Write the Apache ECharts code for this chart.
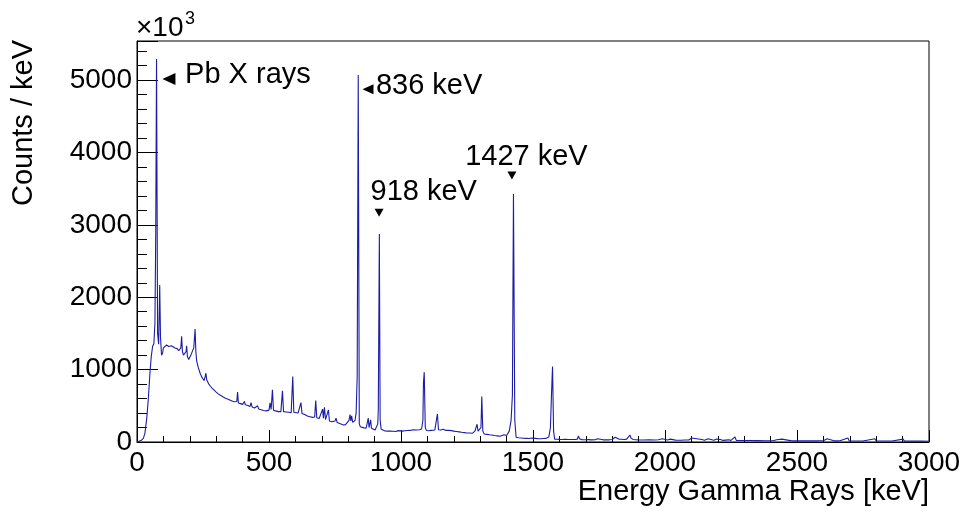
<!DOCTYPE html>
<html>
<head>
<meta charset="utf-8">
<script src="https://cdn.jsdelivr.net/npm/echarts@6/dist/echarts.min.js"></script>
<style>
  html, body { margin: 0; padding: 0; background: #fff; }
  #chart { width: 963px; height: 513px; }
</style>
</head>
<body>
<div id="chart"></div>
<script>
// Gamma-ray spectrum: energy bins [keV] and counts per keV (x10^3)
const energy = [
  0, 5, 15, 24, 30, 37, 43, 49, 54, 59, 64, 68, 71, 74, 78, 82, 86, 89, 93, 97,
  100, 106, 112, 120, 130, 137, 144, 152, 158, 163, 166, 169, 172, 176, 182, 186, 188, 191, 196, 200,
  205, 210, 215, 220, 223, 226, 232, 239, 245, 250, 254, 258, 261, 264, 268, 272, 278, 285, 292, 300,
  308, 316, 325, 335, 345, 352, 360, 368, 374, 378, 381, 384, 392, 400, 404, 407, 410, 420, 428, 432,
  436, 445, 452, 457, 461, 470, 479, 490, 500, 504, 508, 513, 517, 525, 535, 545, 551, 555, 565, 575,
  584, 590, 594, 600, 610, 617, 621, 625, 635, 645, 655, 665, 673, 677, 681, 690, 697, 703, 706, 710,
  714, 720, 725, 729, 738, 745, 750, 754, 758, 768, 775, 782, 790, 797, 803, 807, 810, 813, 817, 822,
  826, 830, 834, 838, 842, 846, 852, 860, 868, 872, 876, 879, 883, 885, 888, 895, 902, 908, 912, 914,
  918, 921, 925, 930, 940, 950, 960, 970, 980, 990, 995, 1005, 1015, 1025, 1035, 1045, 1050, 1060, 1070, 1078,
  1083, 1085, 1088, 1092, 1096, 1105, 1115, 1122, 1128, 1134, 1138, 1142, 1150, 1160, 1170, 1180, 1192, 1200, 1210, 1220,
  1230, 1240, 1248, 1255, 1260, 1270, 1280, 1288, 1292, 1298, 1303, 1306, 1310, 1315, 1325, 1335, 1343, 1355, 1365, 1375,
  1381, 1390, 1400, 1410, 1417, 1422, 1426, 1431, 1436, 1445, 1455, 1463, 1475, 1485, 1495, 1500, 1510, 1520, 1530, 1540,
  1550, 1560, 1566, 1570, 1574, 1578, 1582, 1590, 1600, 1610, 1620, 1625, 1630, 1640, 1650, 1660, 1668, 1672, 1676, 1685,
  1700, 1710, 1720, 1735, 1745, 1750, 1765, 1770, 1775, 1790, 1800, 1811, 1815, 1825, 1835, 1845, 1855, 1862, 1867, 1872,
  1880, 1899, 1920, 1940, 1960, 1975, 1990, 1995, 2010, 2020, 2025, 2040, 2060, 2075, 2082, 2090, 2101, 2106, 2120, 2125,
  2139, 2150, 2163, 2167, 2185, 2196, 2200, 2210, 2220, 2240, 2250, 2265, 2270, 2290, 2320, 2350, 2380, 2410, 2423, 2430,
  2443, 2448, 2480, 2510, 2540, 2570, 2600, 2614, 2620, 2640, 2660, 2693, 2698, 2720, 2750, 2795, 2800, 2830, 2860, 2902,
  2907, 2940, 2970, 3000
];
const counts = [
  0, 5, 20, 50, 120, 330, 600, 950, 1180, 1320, 1360, 1650, 2900, 5290, 1500, 1350, 2170, 1450, 1200, 1230,
  1300, 1320, 1340, 1320, 1330, 1320, 1300, 1290, 1260, 1240, 1300, 1460, 1250, 1200, 1210, 1250, 1330, 1180, 1140, 1160,
  1210, 1230, 1300, 1560, 1250, 1120, 1030, 950, 900, 880, 850, 900, 950, 860, 830, 800, 770, 740, 715, 690,
  665, 645, 625, 605, 590, 580, 565, 555, 545, 560, 690, 540, 530, 520, 520, 560, 515, 505, 490, 545,
  485, 470, 460, 500, 455, 445, 435, 430, 440, 540, 450, 720, 440, 430, 420, 420, 706, 420, 415, 410,
  405, 905, 410, 405, 400, 400, 545, 395, 380, 360, 350, 340, 345, 572, 335, 325, 320, 455, 330, 480,
  310, 300, 443, 290, 280, 280, 290, 330, 270, 255, 245, 235, 240, 250, 300, 380, 290, 360, 270, 270,
  300, 400, 900, 5070, 250, 210, 200, 195, 190, 200, 330, 200, 200, 305, 190, 175, 166, 170, 250, 450,
  2873, 300, 175, 160, 152, 150, 150, 148, 145, 157, 145, 150, 155, 158, 160, 170, 160, 165, 170, 180,
  300, 815, 965, 200, 160, 155, 160, 170, 165, 180, 388, 170, 165, 175, 160, 160, 157, 150, 145, 140,
  134, 130, 125, 140, 125, 120, 150, 245, 150, 140, 200, 628, 150, 110, 105, 100, 97, 90, 85, 80,
  73, 100, 90, 150, 300, 650, 3425, 300, 65, 58, 55, 51, 50, 48, 55, 60, 50, 45, 45, 48,
  50, 70, 200, 650, 1043, 150, 40, 38, 36, 35, 38, 50, 36, 35, 35, 35, 40, 85, 45, 33,
  32, 33, 30, 32, 45, 32, 30, 42, 30, 30, 35, 65, 45, 40, 38, 35, 40, 65, 97, 50,
  35, 30, 28, 30, 28, 32, 45, 30, 28, 40, 27, 26, 25, 27, 42, 28, 55, 28, 45, 26,
  35, 24, 45, 24, 23, 40, 23, 35, 22, 30, 22, 70, 22, 20, 20, 19, 18, 18, 30, 17,
  40, 17, 16, 16, 15, 15, 18, 45, 30, 16, 15, 55, 15, 14, 14, 45, 14, 13, 13, 40,
  12, 12, 12, 11
];

// Peak annotations: marker position, label anchor (data coordinates)
const peakLabels = ['Pb X rays', '836 keV', '918 keV', '1427 keV'];
const markerCoords = [[121, 5014], [875, 4873], [917, 3166], [1420, 3681]];
const markerRotations = [90, 90, 180, 180];
const markerSizes = [[12, 13], [10, 11], [9, 8], [9, 8]];
const labelCoords = [[182, 5073], [905, 4917], [1086, 3457], [1475, 3932]];
const labelAligns = ['left', 'left', 'center', 'center'];

const yTicks = [0, 1000, 2000, 3000, 4000, 5000];

const FONT = '"Liberation Sans", Arial, Helvetica, sans-serif';
const LINE_COLOR = '#1c1ca6';

const seriesData = energy.map((e, i) => [e, counts[i]]);

const markData = [];
peakLabels.forEach((text, i) => {
  markData.push({
    coord: markerCoords[i],
    symbol: 'triangle',
    symbolRotate: markerRotations[i],
    symbolSize: markerSizes[i],
    itemStyle: { color: '#000' },
    label: { show: false }
  });
  markData.push({
    coord: labelCoords[i],
    symbol: 'rect',
    symbolSize: 1,
    itemStyle: { color: 'rgba(0,0,0,0)' },
    label: {
      show: true,
      formatter: text,
      position: 'inside',
      align: labelAligns[i],
      verticalAlign: 'middle',
      color: '#000',
      fontSize: 29,
      fontFamily: FONT
    }
  });
});

const chart = echarts.init(document.getElementById('chart'), null, { renderer: 'canvas' });

const yMax = 5540;

chart.setOption({
  animation: false,
  backgroundColor: '#fff',
  grid: {
    left: 137, right: 34, top: 41, bottom: 71,
    containLabel: false,
    outerBoundsMode: 'none',
    show: true, borderColor: '#000', borderWidth: 1, backgroundColor: 'transparent'
  },
  xAxis: {
    type: 'value', min: 0, max: 3000, interval: 500,
    axisLine: { show: true, lineStyle: { color: '#000', width: 1 } },
    axisTick: { show: true, inside: true, length: 12, lineStyle: { color: '#000' } },
    minorTick: { show: true, splitNumber: 5, length: 6, lineStyle: { color: '#000' } },
    axisLabel: { color: '#000', fontSize: 28, fontFamily: FONT, margin: 7,
                 formatter: v => String(v) },
    splitLine: { show: false }
  },
  yAxis: [
    {
      type: 'value', min: 0, max: yMax, interval: 200, position: 'left',
      axisLine: { show: true, lineStyle: { color: '#000', width: 1 } },
      axisTick: { show: true, inside: true, length: 10, lineStyle: { color: '#000' } },
      axisLabel: {
        color: '#000', fontSize: 28, fontFamily: FONT, margin: 5,
        formatter: v => (yTicks.indexOf(v) >= 0 ? String(v) : '')
      },
      splitLine: { show: false }
    },
    {
      type: 'value', min: 0, max: yMax, interval: 1000, position: 'left',
      axisLine: { show: false },
      axisTick: { show: true, inside: true, length: 21, lineStyle: { color: '#000' } },
      axisLabel: { show: false },
      splitLine: { show: false }
    }
  ],
  graphic: [
    {
      type: 'text', x: 929, y: 492,
      style: { text: 'Energy Gamma Rays [keV]', font: '29px ' + FONT, fill: '#000',
               textAlign: 'right', textVerticalAlign: 'middle' }
    },
    {
      type: 'text', x: 24, y: 40, rotation: Math.PI / 2,
      style: { text: 'Counts / keV', font: '29px ' + FONT, fill: '#000',
               textAlign: 'right', textVerticalAlign: 'middle' }
    },
    {
      type: 'text', x: 136, y: 28,
      style: { text: '\u00d710', font: '28px ' + FONT, fill: '#000',
               textAlign: 'left', textVerticalAlign: 'middle' }
    },
    {
      type: 'text', x: 185, y: 19,
      style: { text: '3', font: '18px ' + FONT, fill: '#000',
               textAlign: 'left', textVerticalAlign: 'middle' }
    }
  ],
  series: [
    {
      type: 'line',
      xAxisIndex: 0, yAxisIndex: 0,
      data: seriesData,
      showSymbol: false, symbol: 'none',
      sampling: false,
      lineStyle: { width: 1.1, color: LINE_COLOR },
      itemStyle: { color: LINE_COLOR },
      markPoint: { silent: true, animation: false, data: markData }
    }
  ]
});
</script>
</body>
</html>
